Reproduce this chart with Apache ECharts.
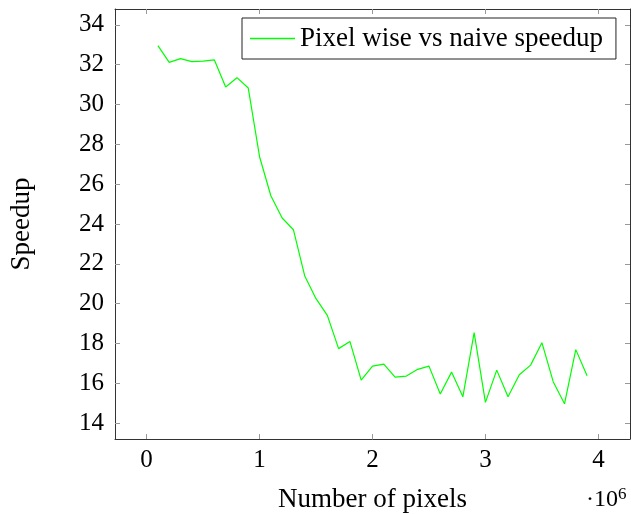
<!DOCTYPE html>
<html>
<head>
<meta charset="utf-8">
<script src="https://cdn.jsdelivr.net/npm/echarts@6/dist/echarts.min.js"></script>
<style>
html, body { margin: 0; padding: 0; background: #fff; }
#main { width: 631px; height: 514px; }
</style>
</head>
<body>
<div id="main"></div>
<script>
// number of pixels in the image
const pixelCounts = [
  100000, 200000, 300000, 400000, 500000, 600000, 700000, 800000, 900000, 1000000,
  1100000, 1200000, 1300000, 1400000, 1500000, 1600000, 1700000, 1800000, 1900000, 2000000,
  2100000, 2200000, 2300000, 2400000, 2500000, 2600000, 2700000, 2800000, 2900000, 3000000,
  3100000, 3200000, 3300000, 3400000, 3500000, 3600000, 3700000, 3800000, 3900000
]
// pixel wise vs naive speedup
const speedup = [
  32.96, 32.12, 32.31, 32.16, 32.18, 32.24, 30.88, 31.35, 30.83, 27.38,
  25.42, 24.30, 23.71, 21.39, 20.25, 19.41, 17.74, 18.10, 16.16, 16.86,
  16.96, 16.31, 16.36, 16.70, 16.86, 15.46, 16.56, 15.32, 18.54, 15.04,
  16.66, 15.32, 16.43, 16.91, 18.04, 16.08, 14.97, 17.69, 16.38
]
const xTicks = [0, 1000000, 2000000, 3000000, 4000000]
const yTicks = [14, 16, 18, 20, 22, 24, 26, 28, 30, 32, 34]

const font = 'Liberation Serif'
const fs = 25
const tickStyle = { show: true, inside: true, length: 5, lineStyle: { color: '#999', width: 1 } }
const axisLineStyle = { show: true, onZero: false, lineStyle: { color: '#333', width: 1 } }

const chart = echarts.init(document.getElementById('main'))
chart.setOption({
  animation: false,
  textStyle: { fontFamily: font },
  grid: { left: 115, right: 1, top: 9, bottom: 75, containLabel: false, outerBoundsMode: 'none' },
  legend: {
    left: 242, top: 18,
    data: [{ name: 'Pixel wise vs naive speedup', icon: 'rect' }],
    itemWidth: 45, itemHeight: 1.5, itemGap: 0,
    padding: [7, 13, 7, 8],
    borderColor: '#222', borderWidth: 1, borderRadius: 0,
    textStyle: { fontFamily: font, fontSize: 27, color: '#000' }
  },
  xAxis: [{
    type: 'value', min: -280000, max: 4280000,
    name: 'Number of pixels', nameLocation: 'middle', nameGap: 47,
    nameTextStyle: { fontFamily: font, fontSize: 27, color: '#000' },
    axisLine: axisLineStyle,
    axisTick: Object.assign({ customValues: xTicks }, tickStyle),
    axisLabel: { customValues: xTicks, margin: 9, fontSize: fs, color: '#000', fontFamily: font,
      formatter: v => String(v / 1000000) },
    splitLine: { show: false }
  }, {
    type: 'value', position: 'top', min: -280000, max: 4280000,
    axisLine: axisLineStyle,
    axisTick: Object.assign({ customValues: xTicks }, tickStyle),
    axisLabel: { show: false },
    splitLine: { show: false }
  }],
  yAxis: [{
    type: 'value', min: 13.2, max: 34.8,
    name: 'Speedup', nameLocation: 'middle', nameGap: 80, nameRotate: 90,
    nameTextStyle: { fontFamily: font, fontSize: 27, color: '#000' },
    axisLine: axisLineStyle,
    axisTick: Object.assign({ customValues: yTicks }, tickStyle),
    axisLabel: { customValues: yTicks, margin: 11, fontSize: fs, color: '#000', fontFamily: font },
    splitLine: { show: false }
  }, {
    type: 'value', position: 'right', min: 13.2, max: 34.8,
    axisLine: axisLineStyle,
    axisTick: Object.assign({ customValues: yTicks }, tickStyle),
    axisLabel: { show: false },
    splitLine: { show: false }
  }],
  graphic: [{
    type: 'text', left: 586, top: 486,
    style: {
      text: '{a|·10}{b|6}',
      rich: {
        a: { fontFamily: font, fontSize: 24, fill: '#000' },
        b: { fontFamily: font, fontSize: 17, fill: '#000', verticalAlign: 'top', padding: [0, 0, 10, 0] }
      }
    }
  }],
  series: [{
    name: 'Pixel wise vs naive speedup',
    type: 'line',
    data: pixelCounts.map((p, i) => [p, speedup[i]]),
    showSymbol: false, symbol: 'none',
    lineStyle: { color: '#00ff00', width: 1.2 },
    itemStyle: { color: '#00ff00' }
  }]
})
</script>
</body>
</html>
